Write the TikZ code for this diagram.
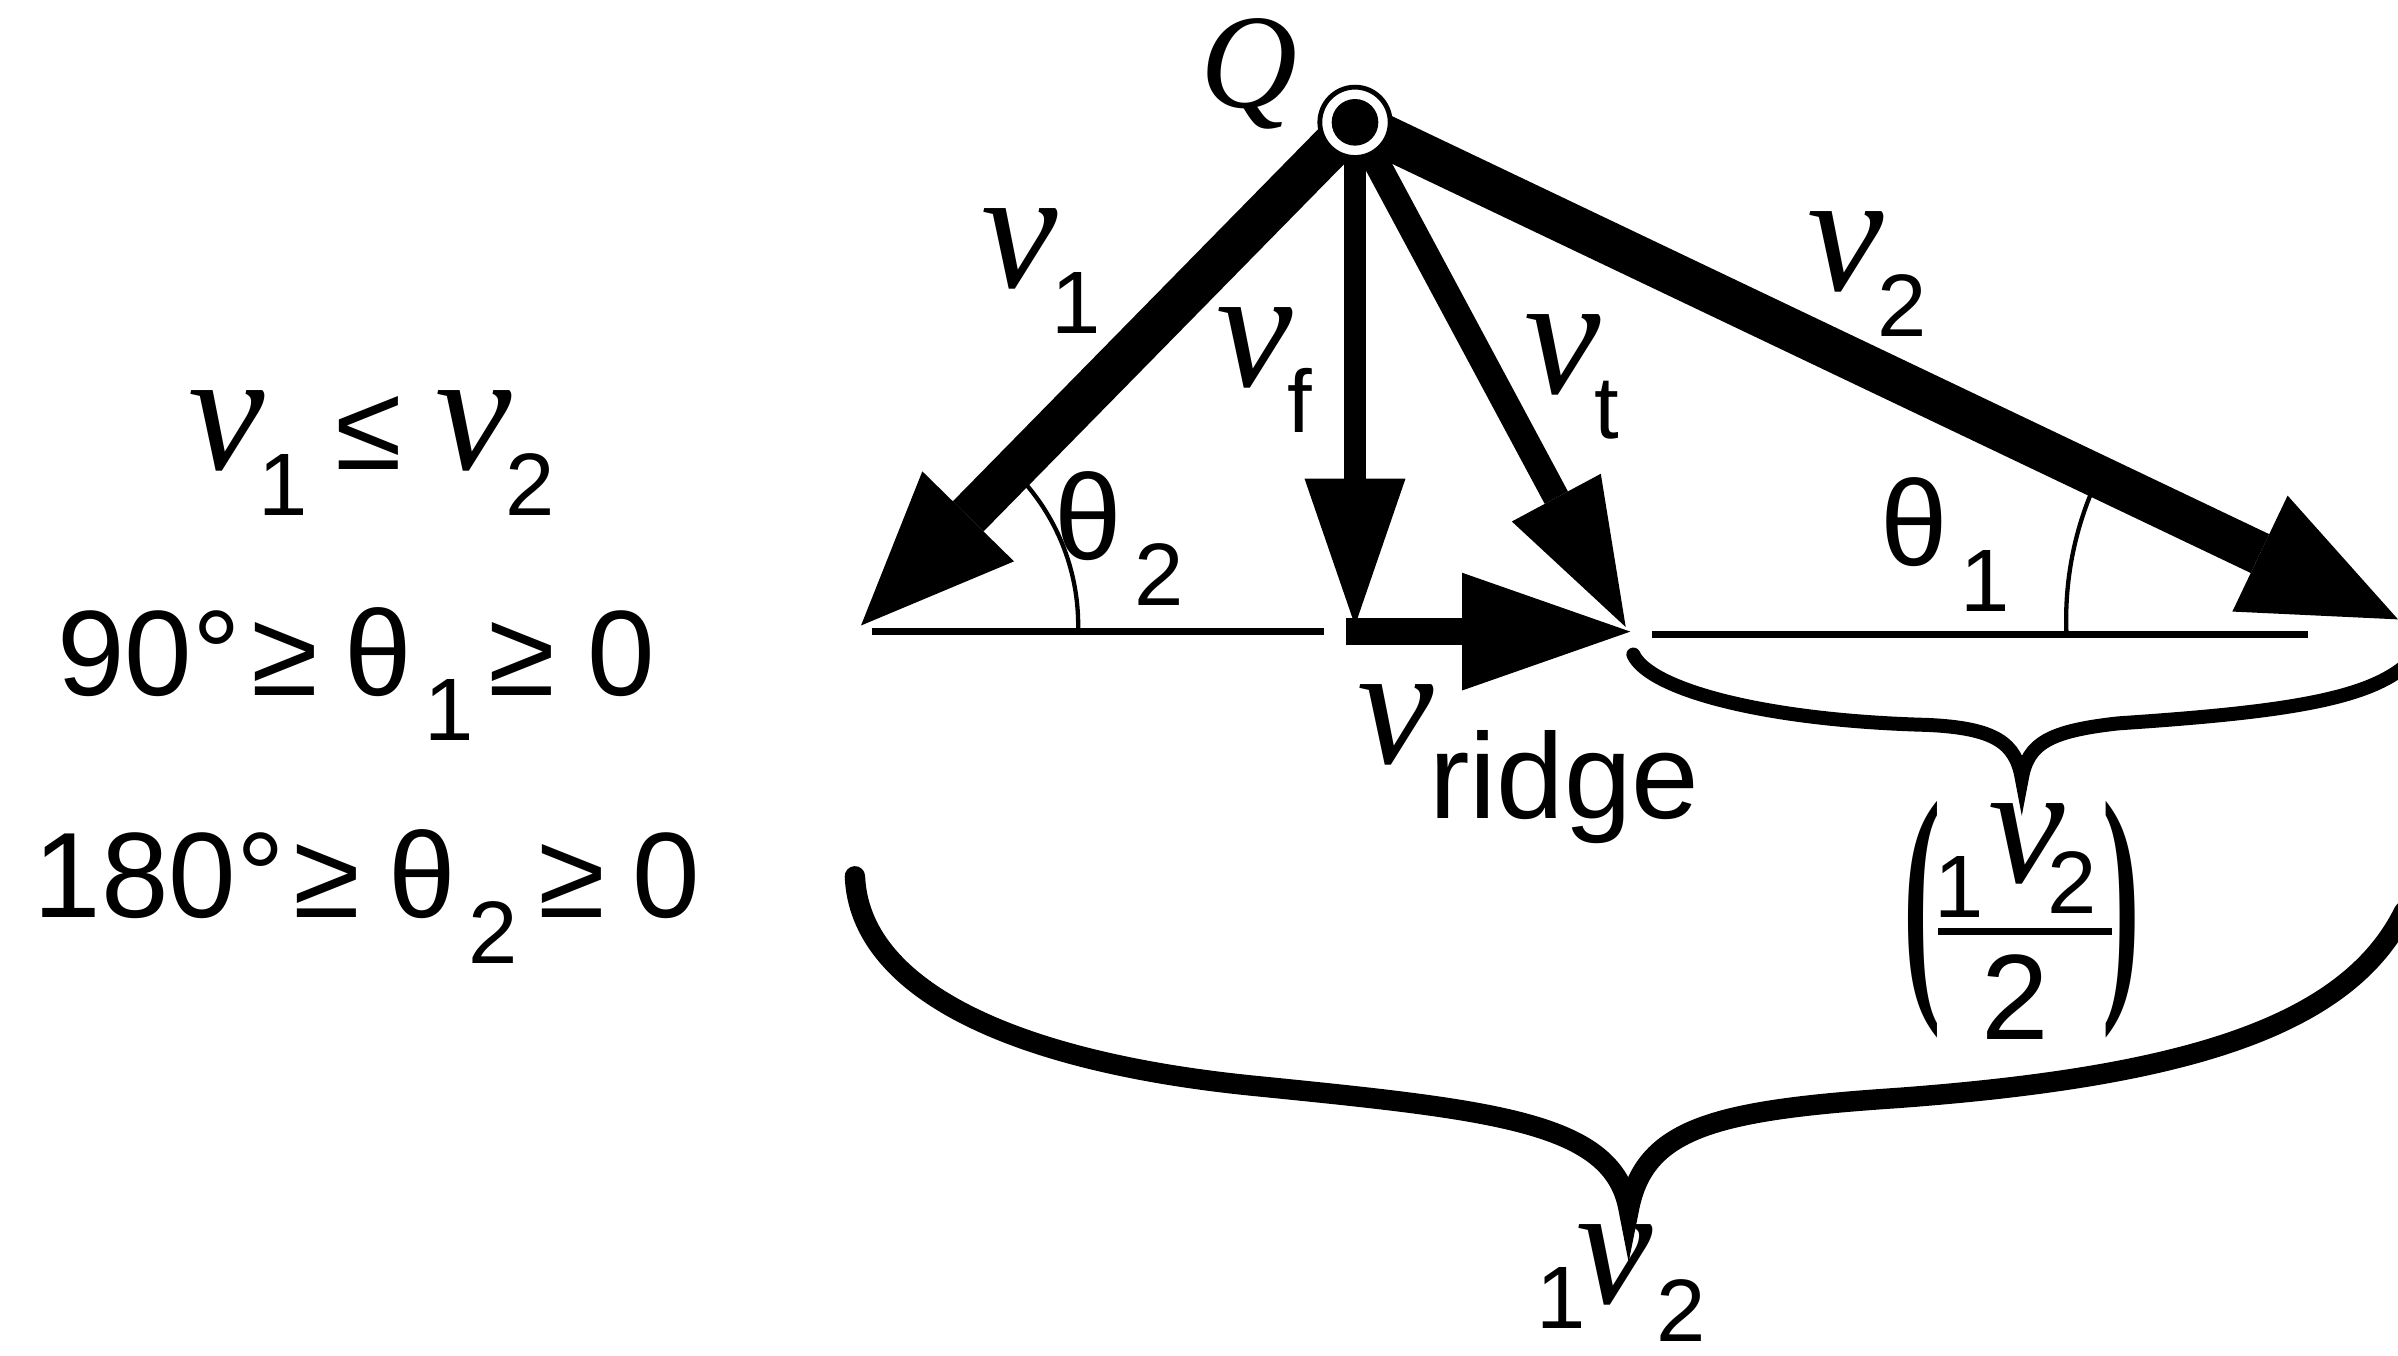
\documentclass[tikz,border=0pt]{standalone}
\usepackage{fontspec}
\setmainfont{Liberation Sans}
\newfontfamily\serifit{Liberation Serif}
\usetikzlibrary{arrows.meta, positioning}
\newcommand{\fmain}{\fontsize{22.6pt}{26pt}\selectfont}
\newcommand{\fsub}{\fontsize{16.5pt}{19pt}\selectfont}
\newcommand{\fq}{\serifit\itshape\fontsize{25pt}{29pt}\selectfont}
\newcommand{\vsym}{{\serifit\itshape\fontsize{32pt}{36pt}\selectfont v}}
\newcommand{\vel}[1]{\vsym\kern-0.4mm\raisebox{-3mm}{\fsub #1}}
\newcommand{\ang}[1]{θ\kern0.8mm\raisebox{-3mm}{\fsub #1}}
\tikzstyle{fatvec} = [line width=8pt, -{Triangle[length=10mm, width=8.4mm, line width=0pt]}]
\tikzstyle{slimvec} = [line width=4.4pt, -{Triangle[length=9.6mm, width=6.6mm, line width=0pt]}]
\tikzstyle{ridgevec} = [line width=5.1pt, -{Triangle[length=11mm, width=7.7mm, line width=0pt]}]
\tikzstyle{groundline} = [line width=1.3pt]
\tikzstyle{anglearc} = [line width=0.8pt]
\tikzstyle{brace} = [line width=2.6pt, line cap=round]
\tikzstyle{bigbrace} = [line width=3.8pt, line cap=round]
\tikzstyle{ring} = [circle, draw, line width=0.9pt, fill=white, minimum size=4.6mm, inner sep=0pt]
\tikzstyle{core} = [circle, fill=black, minimum size=3.05mm, inner sep=0pt]
\tikzstyle{lbl} = [inner sep=0pt, anchor=base west, font=\fmain]
\tikzstyle{cond} = [inner sep=0pt, anchor=base, font=\fmain]
\tikzstyle{paren} = [inner sep=0pt, font=\serifit\bfseries\fontsize{30pt}{34pt}\selectfont]

\begin{document}
\begin{tikzpicture}
\useasboundingbox (0,0) rectangle (15.68,8.86);
\coordinate (Q) at (8.86,8.06);
\coordinate (tipone) at (5.63,4.77);
\coordinate (tipf) at (8.86,4.77);
\coordinate (tipt) at (10.63,4.76);
\coordinate (tiptwo) at (15.68,4.81);
\coordinate (rfoot) at (8.80,4.73);
\coordinate (rtip) at (10.66,4.73);

\draw[groundline] (5.70,4.73) -- (8.66,4.73);
\draw[groundline] (10.80,4.71) -- (15.09,4.71);
\draw[anglearc] (tipone) ++(-2:1.42) arc[start angle=-2, end angle=41, radius=1.42];
\draw[anglearc] (tiptwo) ++(183:2.17) arc[start angle=183, end angle=157, radius=2.17];

\draw[fatvec] (Q) -- (tipone);
\draw[fatvec] (Q) -- (tiptwo);
\draw[slimvec, line width=4pt] (Q) -- (tipf);
\draw[slimvec, line width=4.9pt] (Q) -- (tipt);
\draw[ridgevec] (rfoot) -- (rtip);
\node (qring) [ring] at (Q) {};
\node (qcore) [core] at (Q) {};
\node (qlbl) [lbl, font=\fq] at (7.84,8.16) {Q};

\node (vonelbl) [lbl] at (6.41,6.98) {\vel{1}};
\node (vflbl) [lbl] at (7.95,6.33) {\vel{f}};
\node (vtlbl) [lbl] at (9.96,6.29) {\vel{t}};
\node (vtwolbl) [lbl] at (11.81,6.96) {\vel{2}};
\node (vrlbl) [lbl] at (8.87,3.87) {\vsym\kern-0.3mm\raisebox{-3.6mm}{ridge}};
\node (thtwolbl) [lbl] at (6.89,5.20) {\ang{2}};
\node (thonelbl) [lbl] at (12.29,5.16) {\ang{1}};

\draw[brace] (10.68,4.58) .. controls (10.78,4.36) and (11.50,4.15) .. (12.60,4.12) .. controls (13.05,4.10) and (13.18,4.00) .. (13.22,3.77) .. controls (13.26,4.00) and (13.40,4.08) .. (13.85,4.13) .. controls (14.90,4.20) and (15.45,4.28) .. (15.72,4.50);
\draw[bigbrace] (5.59,3.13) .. controls (5.62,2.40) and (6.60,1.92) .. (8.20,1.76) .. controls (9.80,1.60) and (10.55,1.52) .. (10.65,0.95) .. controls (10.75,1.48) and (11.20,1.60) .. (12.40,1.68) .. controls (14.30,1.82) and (15.35,2.15) .. (15.72,2.90);

\node (lpar) [paren] at (12.57,2.845) {\scalebox{0.7}[1.62]{(}};
\node (rpar) [paren] at (13.87,2.845) {\scalebox{0.7}[1.62]{)}};
\node (numer) [lbl] at (12.70,3.09) {\kern-0.6mm\raisebox{-2.3mm}{\fsub 1}\kern0.3mm\vsym\kern-1.1mm\raisebox{-2mm}{\fsub 2}};
\draw[line width=1.4pt] (12.675,2.77) -- (13.807,2.77);
\node (denom) [cond] at (13.175,2.06) {2};
\node (totlbl) [lbl] at (10.04,0.34) {\raisebox{-1.7mm}{\fsub 1}\kern-0.6mm\vsym\kern0.2mm\raisebox{-2.5mm}{\fsub 2}};

\node (condv) [cond] at (2.43,5.79) {\vel{1}\kern1.8mm≤\kern2.2mm\vel{2}};
\node (condone) [cond] at (2.33,4.315) {90°\kern0.7mm≥\kern1.7mm\ang{1}\kern1mm≥\kern2.1mm{}0};
\node (condtwo) [cond] at (2.40,2.86) {180°\kern0.6mm≥\kern1.8mm\ang{2}\kern1.4mm≥\kern1.8mm{}0};
\end{tikzpicture}
\end{document}
